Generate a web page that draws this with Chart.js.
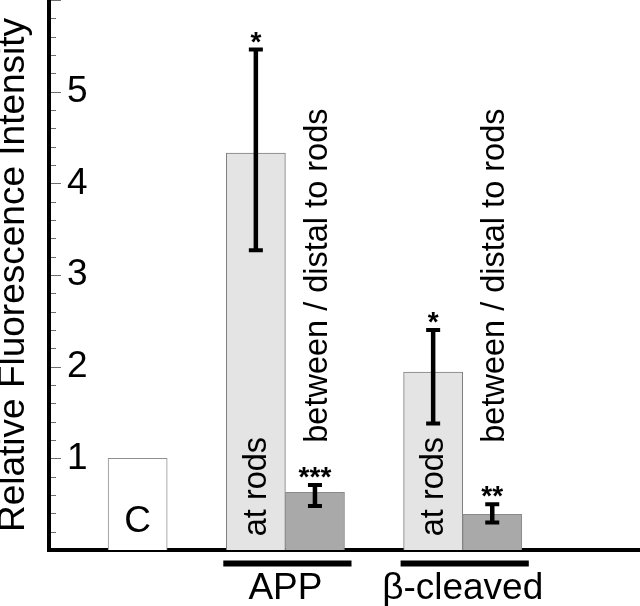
<!DOCTYPE html>
<html>
<head>
<meta charset="utf-8">
<script src="https://cdn.jsdelivr.net/npm/chart.js@4/dist/chart.umd.min.js"></script>
<style>
  html, body { margin: 0; padding: 0; background: #fff; }
  #wrap { width: 640px; height: 606px; position: relative; }
</style>
</head>
<body>
<div id="wrap"><canvas id="fluoChart"></canvas></div>
<script>
const FONT = "'Liberation Sans', Arial, Helvetica, sans-serif";

// one slot per bar, empty slots give the gaps between groups
const categories = ['', 'C', '', 'APP at rods', 'APP between', '', 'β at rods', 'β between', '', ''];
const kinds   = [null, 'control', null, 'rods', 'between', null, 'rods', 'between', null, null];
const values  = [null, 1.0, null, 4.33, 0.63, null, 1.94, 0.39, null, null];
const errHigh = [null, null, null, 5.46, 0.71, null, 2.40, 0.50, null, null];
const errLow  = [null, null, null, 3.27, 0.48, null, 1.38, 0.30, null, null];
const stars   = ['', '', '', '*', '***', '', '*', '**', '', ''];
const barText = ['', 'C', '', 'at rods', 'between / distal to rods', '', 'at rods', 'between / distal to rods', '', ''];
const groups = ['APP', 'β-cleaved'];
const groupFirst = [3, 6];
const groupLast = [4, 7];
const yTickLabels = ['1', '2', '3', '4', '5'];

const fills = { control: '#ffffff', rods: '#e4e4e4', between: '#a9a9a9' };
const borders = { control: '#8f8f8f', rods: '#7c7c7c', between: '#8a8a8a' };

const extras = {
    id: 'extras',
    afterDraw(chart) {
        const { ctx, scales: { x, y } } = chart;
        const area = chart.chartArea;
        const halfSlot = x.width / categories.length / 2;
        ctx.save();

        // small inward tick marks on the y axis
        ctx.strokeStyle = '#6e6e6e';
        ctx.lineWidth = 1;
        for (let k = 1; k <= 30; k++) {
            const py = Math.round(y.getPixelForValue(k / 5)) + 0.5;
            const len = k % 5 === 0 ? 10 : 5;
            ctx.beginPath();
            ctx.moveTo(area.left + 2, py);
            ctx.lineTo(area.left + 2 + len, py);
            ctx.stroke();
        }

        values.forEach((v, i) => {
            if (v == null) return;
            const cx = x.getPixelForValue(i);
            ctx.fillStyle = '#000';

            if (kinds[i] === 'control') {
                ctx.font = '37px ' + FONT;
                ctx.textAlign = 'center';
                ctx.textBaseline = 'alphabetic';
                ctx.fillText(barText[i], cx, y.getPixelForValue(0.2));
            } else {
                // rotated labels read bottom to top
                const isRods = kinds[i] === 'rods';
                ctx.save();
                ctx.translate(cx + (isRods ? 1 : 3), y.getPixelForValue(isRods ? 0.15 : 1.17));
                ctx.rotate(-Math.PI / 2);
                ctx.font = '32.5px ' + FONT;
                ctx.textAlign = 'left';
                ctx.textBaseline = 'middle';
                ctx.fillText(barText[i], 0, 0);
                ctx.restore();
            }

            if (errHigh[i] == null) return;
            const top = y.getPixelForValue(errHigh[i]);
            const bot = y.getPixelForValue(errLow[i]);
            ctx.strokeStyle = '#000';
            ctx.lineWidth = 4.5;
            ctx.beginPath();
            ctx.moveTo(cx, top);
            ctx.lineTo(cx, bot);
            ctx.stroke();
            ctx.lineWidth = 4;
            ctx.beginPath();
            ctx.moveTo(cx - 7, top); ctx.lineTo(cx + 7, top);
            ctx.moveTo(cx - 7, bot); ctx.lineTo(cx + 7, bot);
            ctx.stroke();

            ctx.font = 'bold 28px ' + FONT;
            ctx.textAlign = 'center';
            ctx.textBaseline = 'alphabetic';
            ctx.fillText(stars[i], cx, top + 1);
        });

        // thick bars under each group
        ctx.fillStyle = '#000';
        groups.forEach((g, j) => {
            const x0 = x.getPixelForValue(groupFirst[j]) - halfSlot - 3;
            const x1 = x.getPixelForValue(groupLast[j]) + halfSlot + 7;
            ctx.fillRect(x0, area.bottom + 10.5, x1 - x0, 6);
        });
        ctx.restore();
    }
};

document.addEventListener('DOMContentLoaded', function() {
    const ctx = document.getElementById('fluoChart').getContext('2d');

    new Chart(ctx, {
        type: 'bar',
        data: {
            labels: categories,
            datasets: [{
                data: values,
                backgroundColor: kinds.map(k => k ? fills[k] : 'transparent'),
                borderColor: kinds.map(k => k ? borders[k] : 'transparent'),
                borderWidth: 1,
                barPercentage: 1,
                categoryPercentage: 1
            }]
        },
        options: {
            responsive: true,
            maintainAspectRatio: false,
            animation: false,
            layout: { padding: 0 },
            plugins: {
                legend: { display: false },
                tooltip: { enabled: false }
            },
            scales: {
                x: {
                    type: 'category',
                    position: 'bottom',
                    weight: 0,
                    z: 1,
                    grid: { display: false, drawTicks: false },
                    ticks: { display: false },
                    border: { display: true, width: 4, color: '#000' },
                    afterFit: (s) => { s.height = 2; s.paddingLeft = 0; s.paddingRight = 0; }
                },
                x2: {
                    type: 'linear',
                    position: 'bottom',
                    weight: 1,
                    offset: false,
                    min: -0.5,
                    max: categories.length - 0.5,
                    grid: { display: false, drawTicks: false, offset: false },
                    border: { display: false },
                    afterBuildTicks: (s) => {
                        s.ticks = groups.map((g, j) => ({ value: (groupFirst[j] + groupLast[j]) / 2 }));
                    },
                    ticks: {
                        autoSkip: false,
                        maxRotation: 0,
                        minRotation: 0,
                        padding: 15,
                        color: '#000',
                        font: { family: FONT, size: 37 },
                        callback: (v, i) => groups[i]
                    },
                    afterFit: (s) => { s.height = 54; s.paddingLeft = 0; s.paddingRight = 0; }
                },
                y: {
                    min: 0,
                    max: 6,
                    grid: { display: false, drawTicks: false },
                    border: { display: true, width: 4, color: '#000' },
                    ticks: {
                        stepSize: 1,
                        mirror: true,
                        padding: 18,
                        color: '#000',
                        font: { family: FONT, size: 37 },
                        callback: (v) => yTickLabels.includes(String(v)) ? String(v) : null
                    },
                    title: {
                        display: true,
                        text: 'Relative Fluorescence Intensity',
                        color: '#000',
                        font: { family: FONT, size: 37, lineHeight: 0.76 },
                        padding: 0
                    },
                    afterFit: (s) => { s.width = 49; s.paddingTop = 0; s.paddingBottom = 0; }
                }
            }
        },
        plugins: [extras]
    });
});
</script>
</body>
</html>
